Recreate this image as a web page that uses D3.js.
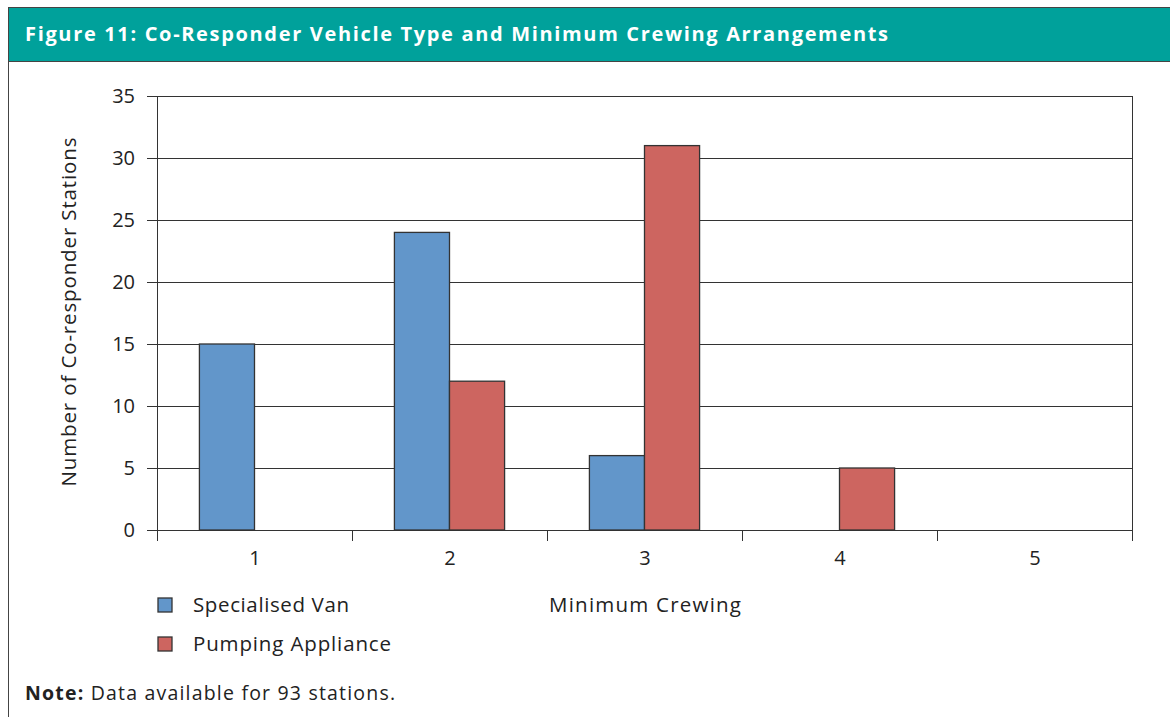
<!DOCTYPE html>
<html>
<head>
<meta charset="utf-8">
<script src="https://cdn.jsdelivr.net/npm/d3@7"></script>
<style>
  body { margin: 0; background: #fff; }
  svg { display: block; font-family: "Open Sans", "Noto Sans", sans-serif; }
</style>
</head>
<body>
<svg width="1170" height="717"></svg>
<script>
const categories = ["1", "2", "3", "4", "5"];
const seriesNames = ["Specialised Van", "Pumping Appliance"];
const vanValues = [15, 24, 6, 0, 0];
const pumpValues = [0, 12, 31, 5, 0];
const yTicks = [0, 5, 10, 15, 20, 25, 30, 35];
const colors = ["#6296CA", "#CD6560"];

const svg = d3.select("svg");
const margin = { top: 96, right: 38, bottom: 187, left: 157 };
const innerWidth = 1170 - margin.left - margin.right;
const innerHeight = 717 - margin.top - margin.bottom;

// frame + header
svg.append("line")
  .attr("x1", 8.5).attr("x2", 8.5).attr("y1", 7).attr("y2", 717)
  .attr("stroke", "#444");
svg.append("line")
  .attr("x1", 8).attr("x2", 1170).attr("y1", 7.5).attr("y2", 7.5)
  .attr("stroke", "#444");
svg.append("rect")
  .attr("x", 9).attr("y", 8)
  .attr("width", 1161).attr("height", 53)
  .attr("fill", "#00A19B");
svg.append("line")
  .attr("x1", 9).attr("x2", 1170).attr("y1", 61.5).attr("y2", 61.5)
  .attr("stroke", "#444");
svg.append("text")
  .attr("x", 25).attr("y", 41)
  .attr("fill", "#fff")
  .attr("textLength", 863).attr("lengthAdjust", "spacing")
  .style("font-size", "20px").style("font-weight", "bold")
  .text("Figure 11:  Co-Responder Vehicle Type and Minimum Crewing Arrangements");

const x = d3.scaleBand().domain(categories).range([margin.left, margin.left + innerWidth]);
const y = d3.scaleLinear().domain([0, 35]).range([margin.top + innerHeight, margin.top]);

// gridlines
svg.selectAll(".grid")
  .data(yTicks)
  .enter().append("line")
  .attr("x1", margin.left - 10).attr("x2", margin.left + innerWidth)
  .attr("y1", d => Math.round(y(d)) + 0.5).attr("y2", d => Math.round(y(d)) + 0.5)
  .attr("stroke", "#333").attr("stroke-width", 1);

// y axis + right edge
svg.selectAll(".vedge")
  .data([x.range()[0], x.range()[1]])
  .enter().append("line")
  .attr("x1", d => d + 0.5).attr("x2", d => d + 0.5)
  .attr("y1", y(35)).attr("y2", y(0) + 11)
  .attr("stroke", "#333");

svg.selectAll(".ylab")
  .data(yTicks)
  .enter().append("text")
  .attr("x", margin.left - 22).attr("y", d => y(d) + 7)
  .attr("text-anchor", "end")
  .attr("fill", "#222")
  .style("font-size", "20px")
  .text(d => String(d));

// x ticks between categories
svg.selectAll(".xtick")
  .data(categories.slice(1))
  .enter().append("line")
  .attr("x1", d => Math.round(x(d)) + 0.5).attr("x2", d => Math.round(x(d)) + 0.5)
  .attr("y1", y(0)).attr("y2", y(0) + 11)
  .attr("stroke", "#333");

svg.selectAll(".xlab")
  .data(categories)
  .enter().append("text")
  .attr("x", d => x(d) + x.bandwidth() / 2 + 0.5)
  .attr("y", y(0) + 35)
  .attr("text-anchor", "middle")
  .attr("fill", "#222")
  .style("font-size", "20px")
  .text(d => d);

// bars
const xSub = d3.scaleBand().domain(seriesNames).range([0, x.bandwidth()]).paddingOuter(0.77);
const rows = [];
categories.forEach((c, i) => {
  rows.push({ cat: c, series: seriesNames[0], value: vanValues[i] });
  rows.push({ cat: c, series: seriesNames[1], value: pumpValues[i] });
});

svg.selectAll(".bar")
  .data(rows.filter(d => d.value > 0))
  .enter().append("rect")
  .attr("x", d => x(d.cat) + xSub(d.series))
  .attr("y", d => y(d.value))
  .attr("width", xSub.bandwidth())
  .attr("height", d => y(0) - y(d.value))
  .attr("fill", d => colors[seriesNames.indexOf(d.series)])
  .attr("stroke", "#333").attr("stroke-width", 1.3);

// axis titles
svg.append("text")
  .attr("transform", `translate(76,${margin.top + innerHeight / 2 - 1}) rotate(-90)`)
  .attr("text-anchor", "middle")
  .attr("fill", "#222")
  .attr("textLength", 349).attr("lengthAdjust", "spacing")
  .style("font-size", "20.5px")
  .text("Number of Co-responder Stations");

svg.append("text")
  .attr("x", 549).attr("y", 612)
  .attr("fill", "#222")
  .attr("textLength", 192).attr("lengthAdjust", "spacing")
  .style("font-size", "20.5px")
  .text("Minimum Crewing");

// legend
const legendWidths = [156, 198];
const legend = svg.selectAll(".legend")
  .data(seriesNames)
  .enter().append("g")
  .attr("transform", (d, i) => `translate(158,${598 + i * 39})`);
legend.append("rect")
  .attr("width", 14).attr("height", 14)
  .attr("fill", (d, i) => colors[i])
  .attr("stroke", "#333").attr("stroke-width", 1.3);
legend.append("text")
  .attr("x", 35).attr("y", 14)
  .attr("fill", "#222")
  .attr("textLength", (d, i) => legendWidths[i]).attr("lengthAdjust", "spacing")
  .style("font-size", "20.5px")
  .text(d => d);

// note
const note = svg.append("text")
  .attr("x", 25).attr("y", 700)
  .attr("fill", "#222")
  .attr("textLength", 370).attr("lengthAdjust", "spacing")
  .style("font-size", "19.5px");
note.append("tspan").style("font-weight", "bold").text("Note:");
note.append("tspan").text(" Data available for 93 stations.");
</script>
</body>
</html>
